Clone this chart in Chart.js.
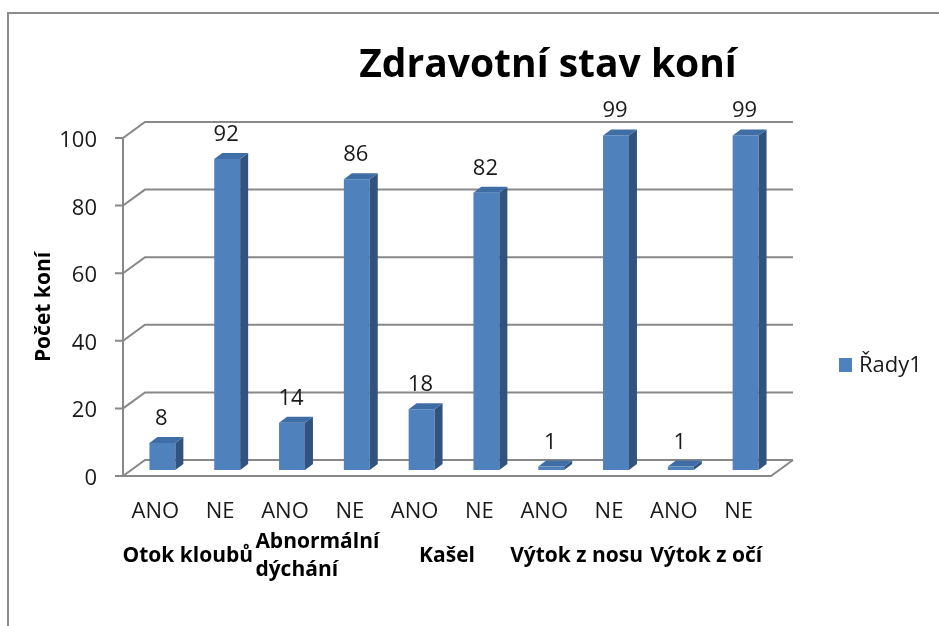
<!DOCTYPE html>
<html>
<head>
<meta charset="utf-8">
<script src="https://cdn.jsdelivr.net/npm/chart.js@4/dist/chart.umd.min.js"></script>
<style>
    html, body { margin: 0; padding: 0; background: #fff; }
    #wrap { width: 939px; height: 626px; }
</style>
</head>
<body>
<div id="wrap"><canvas id="chart" width="939" height="626"></canvas></div>
<script>
// data
const categories = ["ANO", "NE", "ANO", "NE", "ANO", "NE", "ANO", "NE", "ANO", "NE"];
const groups = ["Otok kloubů", ["Abnormální", "dýchání"], "Kašel", "Výtok z nosu", "Výtok z očí"];
const values = [8, 92, 14, 86, 18, 82, 1, 99, 1, 99];
const yTicks = [0, 20, 40, 60, 80, 100];
const seriesName = "Řady1";
const chartTitle = "Zdravotní stav koní";
const yTitle = "Počet koní";

const FONT = "'Open Sans', sans-serif";
const GRID = "#888888";
const FRONT = "#4F81BD";
const SIDE = "#32537D";
const TOP = "#3F6DA6";

// fake 3d: back wall offset and bar offset/depth
const wall = { dx: 22, dy: -16 };
const shift = { dx: 7, dy: -6 };
const depth = { dx: 8, dy: -6 };

const frame3d = {
    id: "frame3d",
    beforeDraw(chart) {
        const ctx = chart.ctx;
        ctx.save();
        ctx.fillStyle = "#fff";
        ctx.fillRect(0, 0, chart.width, chart.height);
        // outer border of the chart object
        ctx.strokeStyle = "#8c8c8c";
        ctx.lineWidth = 2;
        ctx.beginPath();
        ctx.moveTo(8, 626);
        ctx.lineTo(8, 13);
        ctx.lineTo(939, 13);
        ctx.stroke();
        ctx.restore();
    },
    beforeDatasetsDraw(chart) {
        const ctx = chart.ctx;
        const area = chart.chartArea;
        const y = chart.scales.y;
        ctx.save();
        ctx.strokeStyle = GRID;
        ctx.lineWidth = 2;
        ctx.beginPath();
        yTicks.forEach(v => {
            const py = y.getPixelForValue(v);
            ctx.moveTo(area.left - 8, py);
            ctx.lineTo(area.left, py);
            ctx.lineTo(area.left + wall.dx, py + wall.dy);
            ctx.lineTo(area.right + wall.dx, py + wall.dy);
        });
        // front axis and floor
        const y0 = y.getPixelForValue(0);
        ctx.moveTo(area.left, y.getPixelForValue(100));
        ctx.lineTo(area.left, y0);
        ctx.lineTo(area.right, y0);
        ctx.lineTo(area.right + wall.dx, y0 + wall.dy);
        ctx.stroke();

        // tick labels
        ctx.fillStyle = "#1a1a1a";
        ctx.font = "22px " + FONT;
        ctx.textAlign = "right";
        ctx.textBaseline = "alphabetic";
        yTicks.forEach(v => {
            ctx.fillText(String(v), 97, y.getPixelForValue(v) + 9);
        });

        // y axis title
        ctx.save();
        ctx.translate(50, (area.top + area.bottom) / 2);
        ctx.rotate(-Math.PI / 2);
        ctx.textAlign = "center";
        ctx.font = "bold 21px " + FONT;
        ctx.fillStyle = "#000";
        ctx.fillText(yTitle, 0, 0);
        ctx.restore();

        // category labels + group labels
        const x = chart.scales.x;
        ctx.textAlign = "center";
        ctx.font = "22px " + FONT;
        ctx.fillStyle = "#1a1a1a";
        categories.forEach((c, i) => {
            ctx.fillText(c, x.getPixelForValue(i), 518);
        });
        ctx.font = "bold 21px " + FONT;
        ctx.fillStyle = "#000";
        groups.forEach((g, i) => {
            const cx = (x.getPixelForValue(2 * i) + x.getPixelForValue(2 * i + 1)) / 2;
            const lines = Array.isArray(g) ? g : [g];
            const top = 562 - (lines.length - 1) * 14;
            // wrapped labels are a left aligned block, centred as a whole
            const w = Math.max(...lines.map(l => ctx.measureText(l).width));
            ctx.textAlign = "left";
            lines.forEach((l, k) => ctx.fillText(l, cx - w / 2, top + k * 28));
        });

        // title
        ctx.textAlign = "center";
        ctx.font = "bold 39px " + FONT;
        ctx.fillText(chartTitle, 548, 77);

        // legend
        ctx.fillStyle = FRONT;
        ctx.fillRect(839, 358, 13, 14);
        ctx.fillStyle = "#1a1a1a";
        ctx.textAlign = "left";
        ctx.font = "22px " + FONT;
        ctx.fillText(seriesName, 859, 372);
        ctx.restore();

        // bars are drawn a bit into the depth
        ctx.save();
        ctx.translate(shift.dx, shift.dy);
    },
    afterDatasetsDraw(chart) {
        const ctx = chart.ctx;
        const meta = chart.getDatasetMeta(0);
        meta.data.forEach(bar => {
            const p = bar.getProps(["x", "y", "base", "width"], true);
            const l = p.x - p.width / 2, r = p.x + p.width / 2;
            // side face
            ctx.fillStyle = SIDE;
            ctx.beginPath();
            ctx.moveTo(r, p.base);
            ctx.lineTo(r, p.y);
            ctx.lineTo(r + depth.dx, p.y + depth.dy);
            ctx.lineTo(r + depth.dx, p.base + depth.dy);
            ctx.closePath();
            ctx.fill();
            // top face
            ctx.fillStyle = TOP;
            ctx.beginPath();
            ctx.moveTo(l, p.y);
            ctx.lineTo(r, p.y);
            ctx.lineTo(r + depth.dx, p.y + depth.dy);
            ctx.lineTo(l + depth.dx, p.y + depth.dy);
            ctx.closePath();
            ctx.fill();
        });
        // value labels
        ctx.fillStyle = "#1a1a1a";
        ctx.font = "22px " + FONT;
        ctx.textAlign = "center";
        ctx.textBaseline = "alphabetic";
        meta.data.forEach((bar, i) => {
            ctx.fillText(String(values[i]), bar.x - 1, bar.y - 18);
        });
        ctx.restore();
    }
};

new Chart(document.getElementById("chart"), {
    type: "bar",
    data: {
        labels: categories,
        datasets: [{
            label: seriesName,
            data: values,
            backgroundColor: FRONT,
            borderWidth: 0,
            barPercentage: 0.4,
            categoryPercentage: 1,
            clip: false
        }]
    },
    options: {
        responsive: false,
        animation: false,
        devicePixelRatio: 1,
        layout: { padding: { left: 123, right: 168, top: 138, bottom: 150 } },
        plugins: {
            legend: { display: false },
            tooltip: { enabled: false }
        },
        scales: {
            x: { display: false },
            y: { display: false, min: 0, max: 100 }
        }
    },
    plugins: [frame3d]
});
</script>
</body>
</html>
